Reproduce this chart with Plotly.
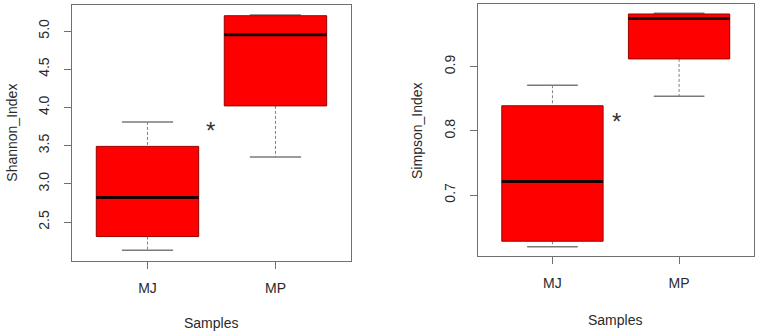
import plotly.graph_objects as go

# ---- data ----
categories = ["MJ", "MP"]
shannon_lower = [2.13, 3.35]
shannon_q1 = [2.31, 4.02]
shannon_median = [2.82, 4.95]
shannon_q3 = [3.49, 5.20]
shannon_upper = [3.81, 5.21]

simpson_lower = [0.6195, 0.854]
simpson_q1 = [0.628, 0.912]
simpson_median = [0.721, 0.975]
simpson_q3 = [0.839, 0.982]
simpson_upper = [0.871, 0.983]

shannon_ticks = [2.5, 3.0, 3.5, 4.0, 4.5, 5.0]
simpson_ticks = [0.7, 0.8, 0.9]

BOX_HALF = 0.4
CAP_HALF = 0.2
FONT = "Liberation Sans, Arial, sans-serif"
TXT = "#2a2a2a"

fig = go.Figure()


def add_boxes(lower, q1, med, q3, upper, xa, ya):
    for i, _ in enumerate(categories):
        c = i + 1
        # dashed whiskers
        for a, b in ((upper[i], q3[i]), (q1[i], lower[i])):
            fig.add_trace(go.Scatter(x=[c, c], y=[a, b], mode="lines",
                                     line=dict(color="#808080", width=1, dash="3px,2px"),
                                     xaxis=xa, yaxis=ya, hoverinfo="skip", showlegend=False))
        # caps
        for v in (upper[i], lower[i]):
            fig.add_trace(go.Scatter(x=[c - CAP_HALF, c + CAP_HALF], y=[v, v], mode="lines",
                                     line=dict(color="#7a7a7a", width=1.5),
                                     xaxis=xa, yaxis=ya, hoverinfo="skip", showlegend=False))
        # box
        fig.add_trace(go.Scatter(x=[c - BOX_HALF, c + BOX_HALF, c + BOX_HALF, c - BOX_HALF, c - BOX_HALF],
                                 y=[q1[i], q1[i], q3[i], q3[i], q1[i]], mode="lines",
                                 fill="toself", fillcolor="#ff0000",
                                 line=dict(color="#9a0000", width=1),
                                 xaxis=xa, yaxis=ya, hoverinfo="skip", showlegend=False))
        # median
        fig.add_trace(go.Scatter(x=[c - BOX_HALF, c + BOX_HALF], y=[med[i], med[i]], mode="lines",
                                 line=dict(color="#1a0000", width=3),
                                 xaxis=xa, yaxis=ya, hoverinfo="skip", showlegend=False))


add_boxes(shannon_lower, shannon_q1, shannon_median, shannon_q3, shannon_upper, "x", "y")
add_boxes(simpson_lower, simpson_q1, simpson_median, simpson_q3, simpson_upper, "x2", "y2")

axis_common = dict(showline=True, linecolor="#707070", linewidth=1, mirror=True,
                   ticks="outside", ticklen=7, tickcolor="#707070", tickwidth=1,
                   showgrid=False, zeroline=False,
                   tickfont=dict(family=FONT, size=14, color=TXT))

fig.update_layout(
    width=764, height=335,
    margin=dict(l=0, r=0, t=0, b=0),
    paper_bgcolor="white", plot_bgcolor="white",
    showlegend=False,
    xaxis=dict(domain=[0.0942, 0.4594], range=[0.41, 2.59], anchor="y",
               tickvals=[1, 2], ticktext=categories, ticklabelstandoff=7, **axis_common),
    yaxis=dict(domain=[0.2209, 0.985], range=[1.99, 5.34], anchor="x",
               tickvals=shannon_ticks, ticktext=[f"{v:.1f}" for v in shannon_ticks],
               tickangle=-90, ticklabelstandoff=9, **axis_common),
    xaxis2=dict(domain=[0.6253, 0.9873], range=[0.41, 2.594], anchor="y2",
                tickvals=[1, 2], ticktext=categories, ticklabelstandoff=7, **axis_common),
    yaxis2=dict(domain=[0.2349, 0.987], range=[0.6045, 0.997], anchor="x2",
                tickvals=simpson_ticks, ticktext=[f"{v:.1f}" for v in simpson_ticks],
                tickangle=-90, ticklabelstandoff=9, **axis_common),
)

ann_font = dict(family=FONT, size=14, color=TXT)
fig.add_annotation(text="Samples", xref="paper", yref="paper", x=0.276, y=0.036,
                   showarrow=False, font=ann_font, xanchor="center", yanchor="middle")
fig.add_annotation(text="Samples", xref="paper", yref="paper", x=0.805, y=0.045,
                   showarrow=False, font=ann_font, xanchor="center", yanchor="middle")
fig.add_annotation(text="Shannon_Index", xref="paper", yref="paper", x=0.0153, y=0.603,
                   textangle=-90, showarrow=False, font=ann_font, xanchor="center", yanchor="middle")
fig.add_annotation(text="Simpson_Index", xref="paper", yref="paper", x=0.5458, y=0.612,
                   textangle=-90, showarrow=False, font=ann_font, xanchor="center", yanchor="middle")
# significance stars
fig.add_annotation(text="*", xref="x", yref="y", x=1.49, y=3.76, yshift=-5,
                   showarrow=False, font=dict(family=FONT, size=24, color="#333333"))
fig.add_annotation(text="*", xref="x2", yref="y2", x=1.505, y=0.821, yshift=-4,
                   showarrow=False, font=dict(family=FONT, size=24, color="#333333"))

fig.write_html("out.html", config={"displayModeBar": False},
               post_script="document.body.style.margin='0';document.body.style.overflow='hidden';")
